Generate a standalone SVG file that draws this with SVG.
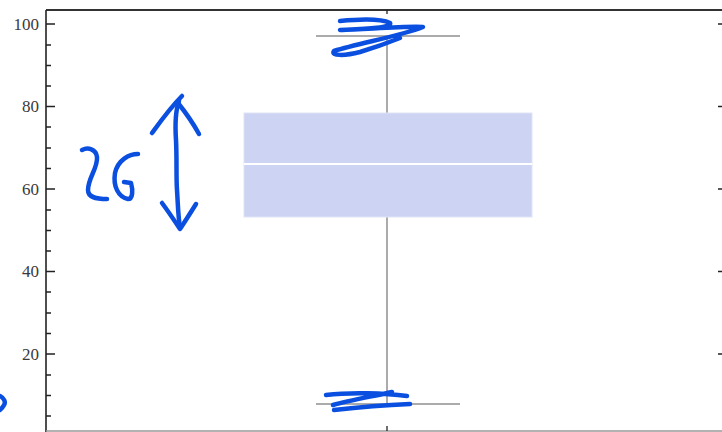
<svg xmlns="http://www.w3.org/2000/svg" width="722" height="432" viewBox="0 0 722 432">
<style>
.tick{stroke:#222;stroke-width:1.3}
.lbl{font-family:"Liberation Serif","DejaVu Serif",serif;font-size:17px;fill:#3a3a3a;text-anchor:end}
.wh{stroke:#8f8f8f;stroke-width:1.5;fill:none}
.ink{stroke:#0a4fe0;stroke-width:4.5;fill:none;stroke-linecap:round;stroke-linejoin:round}
</style>
<rect width="722" height="432" fill="#fff"/>
<g id="frame">
<line x1="46" y1="10" x2="722" y2="10" stroke="#333" stroke-width="2"/>
<line x1="46" y1="10" x2="46" y2="432" stroke="#222" stroke-width="1.6"/>
<line x1="46" y1="431" x2="722" y2="431" stroke="#999" stroke-width="1.5"/>
<line x1="387" y1="10" x2="387" y2="14" class="tick"/>
<line x1="387" y1="426" x2="387" y2="431" class="tick"/>
</g>
<g id="y-axis">
<path class="tick" d="M46 24H55M46 106.5H55M46 189H55M46 271.5H55M46 354H55"/>
<path class="tick" d="M46 45H51M46 65.5H51M46 86H51M46 127H51M46 148H51M46 168.5H51M46 210H51M46 230.5H51M46 251H51M46 292H51M46 313H51M46 333.5H51M46 375H51M46 395.5H51M46 416H51"/>
<text class="lbl" x="39" y="30">100</text>
<text class="lbl" x="39" y="112">80</text>
<text class="lbl" x="39" y="195">60</text>
<text class="lbl" x="39" y="277">40</text>
<text class="lbl" x="39" y="360">20</text>
<path class="tick" d="M718 24H722M718 106.5H722M718 189H722M718 271.5H722M718 354H722" stroke-width="1"/>
</g>
<g id="connectors">
<line class="wh" x1="387" y1="36" x2="387" y2="113"/>
<line class="wh" x1="387" y1="217" x2="387" y2="404"/>
<line class="wh" x1="316" y1="36" x2="460" y2="36"/>
<line class="wh" x1="316" y1="404" x2="460" y2="404"/>
</g>
<g id="box">
<rect x="244" y="113" width="288" height="104" fill="#cdd3f3" stroke="#dfe3f8" stroke-width="1"/>
<line x1="244" y1="164" x2="532" y2="164" stroke="#fff" stroke-width="2"/>
</g>
<g id="annotations">
<path class="ink" d="M82 150C88 147 96 149 97 157C98 168 88 178 88 190C88 197 95 199 107 199"/>
<path class="ink" d="M138 154C129 154 118 160 115 173C113 186 118 197 128 199C133 199 133 190 131 183L124 182"/>
<path class="ink" d="M179 101C175 112 175 125 176 140C177 160 176 175 177 190C178 205 178 215 180 228"/>
<path class="ink" d="M152 133C160 122 170 108 182 96" stroke-width="5.5"/>
<path class="ink" d="M178 103C186 113 193 123 199 134"/>
<path class="ink" d="M162 203C168 211 174 220 180 229C186 220 191 212 196 204"/>
<path class="ink" d="M340 21C360 19 380 18 390 23C393 28 360 29 340 30C370 29 405 26 423 27C400 36 360 43 334 51C330 56 345 56 360 52C380 46 395 40 400 38"/>
<path class="ink" d="M326 395C350 392 385 393 407 396M392 392C375 396 350 400 333 405M334 410C360 407 385 405 410 404"/>
<path class="ink" d="M0 396C4 398 6 402 4 405C3 407 1 409 0 410"/>
</g>
</svg>
